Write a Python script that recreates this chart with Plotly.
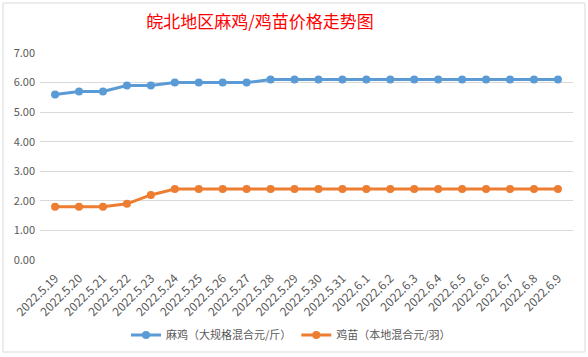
import plotly.graph_objects as go

dates = ["2022.5.19", "2022.5.20", "2022.5.21", "2022.5.22", "2022.5.23", "2022.5.24",
         "2022.5.25", "2022.5.26", "2022.5.27", "2022.5.28", "2022.5.29", "2022.5.30",
         "2022.5.31", "2022.6.1", "2022.6.2", "2022.6.3", "2022.6.4", "2022.6.5",
         "2022.6.6", "2022.6.7", "2022.6.8", "2022.6.9"]
maji = [5.6, 5.7, 5.7, 5.9, 5.9, 6.0, 6.0, 6.0, 6.0, 6.1, 6.1, 6.1,
        6.1, 6.1, 6.1, 6.1, 6.1, 6.1, 6.1, 6.1, 6.1, 6.1]
jimiao = [1.8, 1.8, 1.8, 1.9, 2.2, 2.4, 2.4, 2.4, 2.4, 2.4, 2.4, 2.4,
          2.4, 2.4, 2.4, 2.4, 2.4, 2.4, 2.4, 2.4, 2.4, 2.4]
yticks = [0, 1, 2, 3, 4, 5, 6, 7]

FONT = "Noto Sans CJK SC"
W, H = 588, 357
L, R, T, B = 40, 15, 53, 97
pw, ph = W - L - R, H - T - B

fig = go.Figure()
fig.add_trace(go.Scatter(x=list(range(len(dates))), y=maji, mode="lines+markers",
                         name="麻鸡（大规格混合元/斤）",
                         line=dict(color="#5B9BD5", width=3),
                         marker=dict(size=8, color="#5B9BD5")))
fig.add_trace(go.Scatter(x=list(range(len(dates))), y=jimiao, mode="lines+markers",
                         name="鸡苗（本地混合元/羽）",
                         line=dict(color="#ED7D31", width=3),
                         marker=dict(size=8, color="#ED7D31")))

fig.update_layout(
    width=W, height=H,
    paper_bgcolor="white", plot_bgcolor="white",
    margin=dict(l=L, r=R, t=T, b=B, autoexpand=False),
    title=dict(text="皖北地区麻鸡/鸡苗价格走势图", x=260 / W, xanchor="center",
               xref="container",
               y=1 - 22 / H, yanchor="middle",
               font=dict(family=FONT, size=17, color="#FF0000")),
    font=dict(family=FONT, color="#595959", size=11),
    xaxis=dict(tickmode="array", tickvals=list(range(len(dates))), ticktext=dates,
               tickangle=-45, range=[-0.63, 21.63], showgrid=False, zeroline=False,
               showline=False, automargin=False, ticklabelstandoff=8,
               tickfont=dict(size=12, color="#595959")),
    yaxis=dict(range=[0, 7], tickvals=yticks, tickformat=".2f", showgrid=True,
               gridcolor="#D9D9D9", gridwidth=1, zeroline=False, showline=False,
               automargin=False, ticklabelstandoff=4,
               tickfont=dict(size=11, color="#595959")),
    legend=dict(orientation="h", x=291 / W, xanchor="center", xref="container",
                y=1 - 335 / H, yanchor="middle", yref="container",
                font=dict(size=11, color="#595959")),
    showlegend=True,
    shapes=[dict(type="rect", xref="paper", yref="paper",
                 x0=-(L - 3) / pw, x1=1 + (R - 3) / pw,
                 y0=-(B - 5) / ph, y1=1 + (T - 3) / ph,
                 line=dict(color="#D9D9D9", width=1))],
)
fig.write_html("out.html", config={"displayModeBar": False},
               post_script="document.body.style.margin='0px';")
